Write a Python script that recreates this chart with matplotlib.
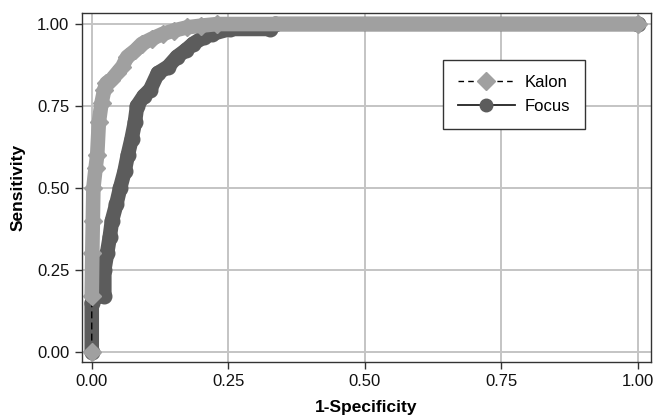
import matplotlib
matplotlib.use("Agg")
import matplotlib.pyplot as plt
from matplotlib.lines import Line2D

plt.rcParams['font.family'] = ['Liberation Sans', 'DejaVu Sans']

# Kalon ROC (1-specificity, sensitivity)
kalon_fpr = [0.000, 0.000, 0.001, 0.002, 0.003, 0.007, 0.010, 0.013, 0.018, 0.023,
             0.027, 0.036, 0.046, 0.056, 0.065, 0.080, 0.092, 0.110, 0.130, 0.150,
             0.175, 0.200, 0.230, 1.000]
kalon_tpr = [0.000, 0.170, 0.300, 0.400, 0.500, 0.560, 0.600, 0.700, 0.760, 0.800,
             0.820, 0.830, 0.850, 0.870, 0.900, 0.920, 0.940, 0.955, 0.970, 0.980,
             0.990, 0.995, 1.000, 1.000]

# Focus ROC
focus_fpr = [0.000, 0.000, 0.010, 0.023, 0.023, 0.028, 0.033, 0.037, 0.045, 0.052,
             0.060, 0.066, 0.073, 0.079, 0.083, 0.095, 0.107, 0.121, 0.140, 0.156,
             0.172, 0.186, 0.205, 0.220, 0.253, 0.327, 0.335, 1.000]
focus_tpr = [0.000, 0.150, 0.170, 0.170, 0.250, 0.300, 0.350, 0.400, 0.450, 0.500,
             0.550, 0.600, 0.650, 0.700, 0.750, 0.780, 0.800, 0.850, 0.870, 0.900,
             0.920, 0.940, 0.960, 0.970, 0.985, 0.985, 1.000, 1.000]

ticks = [0.00, 0.25, 0.50, 0.75, 1.00]
tick_labels = ["0.00", "0.25", "0.50", "0.75", "1.00"]

kalon_color = "#a0a0a0"
focus_color = "#5c5c5c"

fig = plt.figure(figsize=(6.54, 4.19), dpi=100)
ax = fig.add_axes([0.125, 0.1368, 0.8704, 0.8314])

ax.set_xlim(-0.0183, 1.024)
ax.set_ylim(-0.0305, 1.0327)

ax.set_xticks(ticks)
ax.set_yticks(ticks)
ax.set_xticklabels(tick_labels)
ax.set_yticklabels(tick_labels)
ax.grid(True, color="#c4c4c4", linewidth=1.4)
ax.set_axisbelow(True)
ax.tick_params(axis="both", length=5, width=1, color="#333333",
               labelsize=12, labelcolor="#111111", pad=4)
for s in ax.spines.values():
    s.set_color("#333333")
    s.set_linewidth(1.0)

# Focus band (overlapping markers)
ax.plot(focus_fpr, focus_tpr, color=focus_color, lw=10.5, solid_capstyle="round",
        solid_joinstyle="round", zorder=2)
ax.plot(focus_fpr, focus_tpr, linestyle="none", marker="o", ms=10.5,
        color=focus_color, zorder=2)

# Kalon connecting dashed line
ax.plot(kalon_fpr, kalon_tpr, color="black", lw=1, linestyle=(0, (5, 3)), zorder=3)

# Kalon band (overlapping markers) - from second point onward, first marker alone
ax.plot(kalon_fpr[1:], kalon_tpr[1:], color=kalon_color, lw=10.5, solid_capstyle="round",
        solid_joinstyle="round", zorder=4)
ax.plot(kalon_fpr, kalon_tpr, linestyle="none", marker="D", ms=9.5,
        color=kalon_color, zorder=4)

ax.set_xlabel("1-Specificity", fontsize=12.5, fontweight="bold", labelpad=8)
ax.set_ylabel("Sensitivity", fontsize=12.5, fontweight="bold", labelpad=8)

handles = [
    Line2D([0], [0], color="black", lw=1, linestyle=(0, (4, 3)), marker="D",
           ms=9, markerfacecolor=kalon_color, markeredgecolor=kalon_color),
    Line2D([0], [0], color="#222222", lw=1.3, linestyle="-", marker="o",
           ms=9, markerfacecolor=focus_color, markeredgecolor=focus_color),
]
leg = ax.legend(handles, ["Kalon", "Focus"], loc="upper left",
                bbox_to_anchor=(0.6347, 0.866), fontsize=12, frameon=True,
                fancybox=False, edgecolor="#333333", framealpha=1,
                handlelength=3.4, borderpad=0.9, labelspacing=0.55,
                handletextpad=0.6, borderaxespad=0)
leg.get_frame().set_linewidth(1.0)

fig.savefig("out.png", dpi=100)
